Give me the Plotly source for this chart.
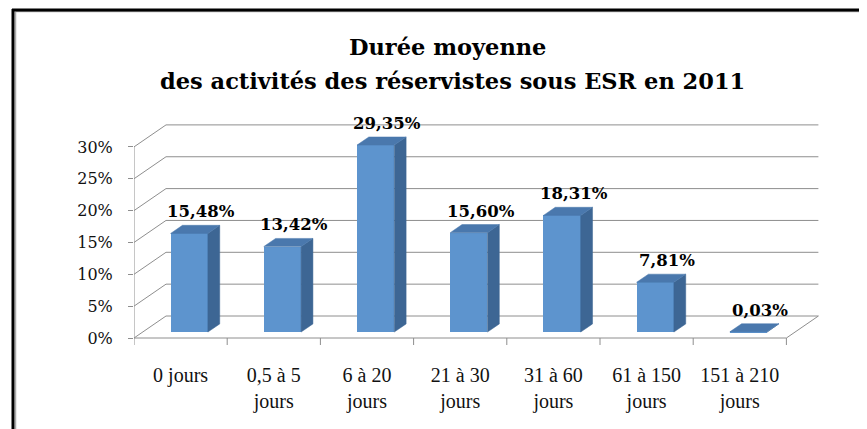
import plotly.graph_objects as go

# ---------------- data ----------------
categories = ["0 jours", "0,5 à 5<br>jours", "6 à 20<br>jours", "21 à 30<br>jours",
              "31 à 60<br>jours", "61 à 150<br>jours", "151 à 210<br>jours"]
values = [15.48, 13.42, 29.35, 15.60, 18.31, 7.81, 0.03]
value_labels = ["15,48%", "13,42%", "29,35%", "15,60%", "18,31%", "7,81%", "0,03%"]
y_ticks = [0, 5, 10, 15, 20, 25, 30]
y_tick_labels = ["0%", "5%", "10%", "15%", "20%", "25%", "30%"]
title_line1 = "Durée moyenne"
title_line2 = "des activités des réservistes sous ESR en 2011"

# ---------------- layout geometry ----------------
OFF = 8                     # page body margin
W, H = 867 - OFF, 429 - OFF
PL, PR, PT, PB = 134, 834, 120, 345   # plot area in window pixels
FLOOR = 338                 # window y of front floor line
ML, MR, MT, MB = PL - OFF, (867 - PR), PT - OFF, (429 - PB)
PW, PH = PR - PL, PB - PT
PX_PER_CAT = 93.2
PX_PER_PCT = 6.37
x_range = [0, PW / PX_PER_CAT]
y_bottom = -(PB - FLOOR) / PX_PER_PCT
y_range = [y_bottom, y_bottom + PH / PX_PER_PCT]

DU = 32 / PX_PER_CAT      # depth offset (category units)
DV = 22 / PX_PER_PCT      # depth offset (percent units)
F1, F2 = 0.27, 0.64       # bar front / back depth fractions
HW = 0.2                  # half bar width

FRONT = "#5D94CE"
SIDE = "#3D6694"
TOP = "#4A78AD"
GRID = "#8E8E8E"

n = len(categories)
fig = go.Figure()

# side and top faces
for i, h in enumerate(values):
    c = i + 0.5
    xs = [c + HW + F1 * DU, c + HW + F2 * DU, c + HW + F2 * DU, c + HW + F1 * DU, c + HW + F1 * DU]
    ys = [F1 * DV, F2 * DV, h + F2 * DV, h + F1 * DV, F1 * DV]
    fig.add_trace(go.Scatter(x=xs, y=ys, mode="lines", fill="toself", fillcolor=SIDE,
                             line=dict(width=0.5, color=SIDE), hoverinfo="skip", showlegend=False))
    xt = [c - HW + F1 * DU, c + HW + F1 * DU, c + HW + F2 * DU, c - HW + F2 * DU, c - HW + F1 * DU]
    yt = [h + F1 * DV, h + F1 * DV, h + F2 * DV, h + F2 * DV, h + F1 * DV]
    fig.add_trace(go.Scatter(x=xt, y=yt, mode="lines", fill="toself", fillcolor=TOP,
                             line=dict(width=0.5, color=TOP), hoverinfo="skip", showlegend=False))

# front faces
fig.add_trace(go.Bar(x=[i + 0.5 + F1 * DU for i in range(n)], y=values,
                     base=[F1 * DV] * n, width=2 * HW, marker=dict(color=FRONT, line=dict(width=0)),
                     showlegend=False, hoverinfo="skip"))

# walls / grid as shapes below traces
shapes = []
def line(x0, y0, x1, y1, color=GRID, width=1, xref="x", yref="y"):
    shapes.append(dict(type="line", x0=x0, y0=y0, x1=x1, y1=y1, xref=xref, yref=yref,
                       layer="below", line=dict(color=color, width=width)))

for g in y_ticks:
    line(DU, g + DV, n + DU, g + DV)        # back wall
    line(0, g, DU, g + DV)                  # side wall diagonal
line(0, 0, 0, y_ticks[-1])                  # front vertical axis
line(0, 0, n, 0)                            # floor front
line(n, 0, n + DU, DV)                      # floor right edge
for i in range(n + 1):
    line(i, 0, i, -7 / PX_PER_PCT)          # category ticks

# frame (window pixel -> paper)
def px(x): return (x - PL) / PW
def py(y): return (PB - y) / PH
shapes.append(dict(type="line", xref="paper", yref="paper", x0=px(15.5), y0=py(11.5), x1=px(867), y1=py(11.5),
                   line=dict(color="#AAAAAA", width=1.5)))
shapes.append(dict(type="line", xref="paper", yref="paper", x0=px(15.5), y0=py(11.5), x1=px(15.5), y1=py(429),
                   line=dict(color="#AAAAAA", width=1.5)))
shapes.append(dict(type="line", xref="paper", yref="paper", x0=px(12), y0=py(10), x1=px(867), y1=py(10),
                   line=dict(color="black", width=3)))
shapes.append(dict(type="line", xref="paper", yref="paper", x0=px(13), y0=py(9), x1=px(13), y1=py(429),
                   line=dict(color="black", width=3)))

annotations = []
for i, (h, t) in enumerate(zip(values, value_labels)):
    annotations.append(dict(x=i + 0.5 + F2 * DU, y=h + F2 * DV, xref="x", yref="y", text=t,
                            showarrow=False, yanchor="bottom", yshift=2,
                            font=dict(family="DejaVu Serif", size=16.5, color="black", weight="bold")))
annotations.append(dict(x=px(447), y=py(47), xref="paper", yref="paper", text=title_line1, showarrow=False,
                        xanchor="center", yanchor="middle",
                        font=dict(family="DejaVu Serif", size=22.5, color="black", weight="bold")))
annotations.append(dict(x=px(452), y=py(81), xref="paper", yref="paper", text=title_line2, showarrow=False,
                        xanchor="center", yanchor="middle",
                        font=dict(family="DejaVu Serif", size=22.5, color="black", weight="bold")))

fig.update_layout(
    width=W, height=H, margin=dict(l=ML, r=MR, t=MT, b=MB, pad=0),
    paper_bgcolor="white", plot_bgcolor="white", showlegend=False,
    shapes=shapes, annotations=annotations, bargap=0,
    xaxis=dict(range=x_range, showgrid=False, zeroline=False, showline=False,
               tickmode="array", tickvals=[i + 0.5 for i in range(n)], ticktext=categories,
               ticks="", ticklabelstandoff=16,
               tickfont=dict(family="Liberation Serif", size=20, color="#111111")),
    yaxis=dict(range=y_range, showgrid=False, zeroline=False, showline=False,
               tickmode="array", tickvals=y_ticks, ticktext=y_tick_labels,
               ticks="outside", ticklen=5, tickcolor=GRID, ticklabelstandoff=12,
               tickfont=dict(family="DejaVu Serif", size=16, color="#111111")),
)

fig.write_html("out.html")
